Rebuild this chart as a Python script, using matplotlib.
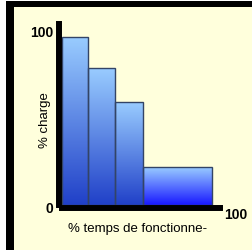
import numpy as np
import matplotlib
matplotlib.use("Agg")
import matplotlib.pyplot as plt
from matplotlib.patches import Rectangle
from matplotlib.colors import LinearSegmentedColormap

# Data
lefts = [0, 16.5, 33.5, 51.5]
widths = [16.5, 17, 18, 43.5]
charges = [98, 80, 60, 22]
bottom_colors = ["#2040C8", "#2040C8", "#2040C8", "#1818FF"]
top_color = "#99CCFF"
ylabel = "% charge"
xlabel = "% temps de fonctionne-"

W, H = 253, 250
fig = plt.figure(figsize=(W / 100, H / 100), dpi=100)
fig.patch.set_facecolor("white")

def fx(px):
    return px / W

def fy(py):
    return 1 - py / H

# Background frame
fig.patches.append(Rectangle((fx(14), 0), 1 - fx(14), fy(7), transform=fig.transFigure,
                             facecolor="#FFFFDC", edgecolor="none", zorder=-10))
fig.patches.append(Rectangle((fx(6), 0), fx(8), fy(1), transform=fig.transFigure,
                             facecolor="black", edgecolor="none", zorder=-9))
fig.patches.append(Rectangle((fx(6), fy(7)), 1 - fx(6), fy(1) - fy(7), transform=fig.transFigure,
                             facecolor="black", edgecolor="none", zorder=-9))

ax = fig.add_axes([fx(62), fy(205), fx(220) - fx(62), fy(24) - fy(205)])
ax.set_facecolor("none")
ax.set_xlim(0, 100)
ax.set_ylim(0, 105.8)

bars = ax.bar(lefts, charges, width=widths, align="edge", facecolor="none",
              edgecolor="#334466", linewidth=1.0, zorder=3)
grad = np.linspace(0, 1, 256).reshape(-1, 1)
for b, bc in zip(bars, bottom_colors):
    cmap = LinearSegmentedColormap.from_list("g", [bc, top_color])
    x0, y0 = b.get_x(), b.get_y()
    im = ax.imshow(grad, cmap=cmap, origin="lower", aspect="auto",
                   extent=(x0, x0 + b.get_width(), y0, y0 + b.get_height()), zorder=2)
    im.set_clip_path(b)
ax.set_xlim(0, 100)
ax.set_ylim(0, 105.8)

for s in ["top", "right"]:
    ax.spines[s].set_visible(False)
for s in ["left", "bottom"]:
    ax.spines[s].set_linewidth(4.3)
    ax.spines[s].set_color("black")
    ax.spines[s].set_position(("outward", 2.16))
    ax.spines[s].set_capstyle("projecting")
ax.set_xticks([])
ax.set_yticks([])

fam = ["Liberation Sans", "DejaVu Sans"]
fig.text(fx(53), fy(33), "100", ha="right", va="center", fontsize=10, fontweight="bold", family=fam)
fig.text(fx(53), fy(209), "0", ha="right", va="center", fontsize=10, fontweight="bold", family=fam)
fig.text(fx(224), fy(215), "100", ha="left", va="center", fontsize=10, fontweight="bold", family=fam)
fig.text(fx(45), fy(120), ylabel, ha="center", va="center", rotation=90, fontsize=9.5, family=fam)
fig.text(fx(138), fy(229), xlabel, ha="center", va="center", fontsize=9.5, family=fam)

fig.savefig("out.png", dpi=100, facecolor=fig.get_facecolor())
